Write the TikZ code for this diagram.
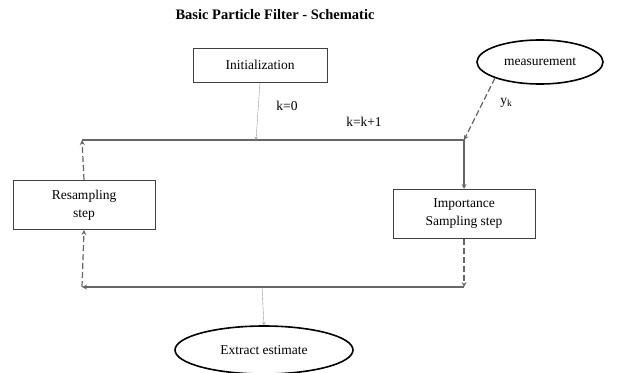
\documentclass[tikz,border=0pt]{standalone}
\usepackage{fontspec}
\setmainfont{Liberation Serif}
\usetikzlibrary{shapes.geometric}
\tikzset{
  txt/.style={font=\fontsize{13.5}{18}\selectfont},
  stepbox/.style={txt, draw=black!75, line width=1pt, minimum width=142pt, minimum height=49pt, align=center},
  oval/.style={txt, ellipse, draw=black, line width=1.6pt},
  flow/.style={line width=1.2pt, color=black!60},
  dflow/.style={flow, dashed, dash pattern=on 6pt off 3pt},
}
\begin{document}
\begin{tikzpicture}[x=1pt,y=-1pt,>=stealth]
    \useasboundingbox (0,0) rectangle (618,372);
    \node[font=\fontsize{14.5}{17}\selectfont\bfseries] (title) at (275,15) {Basic Particle Filter - Schematic};
    \node[stepbox, minimum width=134pt, minimum height=34pt] (init) at (260,65) {Initialization};
    \node[stepbox] (res) at (84,205) {Resampling\\step};
    \node[stepbox] (imp) at (464,214) {Importance\\Sampling step};
    \node[oval, minimum width=126pt, minimum height=44pt] (meas) at (540,62) {measurement};
    \node[oval, minimum width=178pt, minimum height=48pt] (est) at (264,350) {Extract estimate};
    % corners of the loop
    \coordinate (tl) at (82,140);
    \coordinate (tr) at (464,140);
    \coordinate (bl) at (82,287);
    \coordinate (br) at (464,287);
    \coordinate (tm) at (256,140);
    \coordinate (bm) at (262,287);
    \node[txt] (k0) at (287,106) {k=0};
    \node[txt] (kk) at (364,122) {k=k+1};
    \draw[flow, ->] (tl) -- (tr) -- (imp.north);
    \draw[flow, ->, line width=0.4pt, color=black!40] (init.south) -- (tm);
    \draw[dflow, ->] (meas.south west) -- (tr) node[pos=0.4, right=14pt, color=black, txt] {y$_\mathrm{k}$};
    \draw[dflow, ->] (imp.south) -- (br);
    \draw[flow, ->] (br) -- (bl);
    \draw[dflow, ->] (bl) -- (res.south);
    \draw[dflow, ->] (res.north) -- (tl);
    \draw[flow, ->, line width=0.4pt, color=black!40] (bm) -- (est.north);
\end{tikzpicture}
\end{document}
